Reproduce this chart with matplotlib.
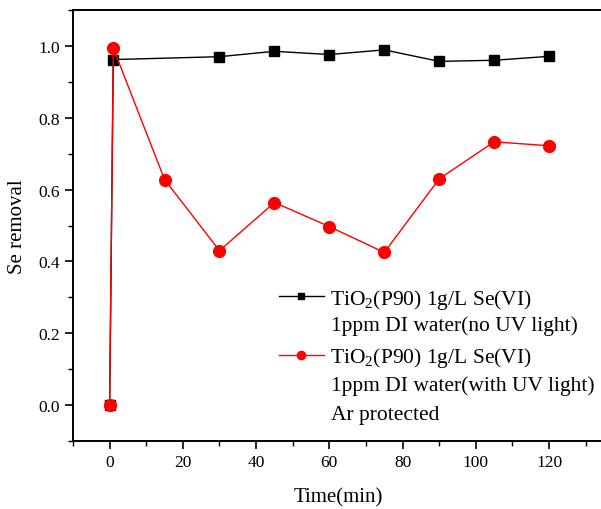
import matplotlib
matplotlib.use('Agg')
import matplotlib.pyplot as plt
from matplotlib.ticker import MultipleLocator, FormatStrFormatter

plt.rcParams['font.family'] = 'Liberation Serif'
plt.rcParams['mathtext.fontset'] = 'custom'
plt.rcParams['mathtext.rm'] = 'Liberation Serif'

# ── data ──
time_dark = [0, 1, 30, 45, 60, 75, 90, 105, 120]
removal_dark = [0.0, 0.962, 0.970, 0.985, 0.976, 0.989, 0.957, 0.960, 0.971]

time_uv = [0, 1, 15, 30, 45, 60, 75, 90, 105, 120]
removal_uv = [0.0, 0.994, 0.628, 0.430, 0.564, 0.497, 0.425, 0.630, 0.733, 0.722]

label_dark = 'TiO$_2$(P90) 1g/L Se(VI)'
label_uv = 'TiO$_2$(P90) 1g/L Se(VI)'
extra_dark = ['1ppm DI water(no UV light)']
extra_uv = ['1ppm DI water(with UV light)', 'Ar protected']

fig = plt.figure(figsize=(6.01, 5.10), dpi=100)
ax = fig.add_axes([73 / 601, 68 / 510, 531 / 601, 431 / 510])

ax.plot(time_dark, removal_dark, color='black', lw=1.0, marker='s', ms=7,
        label=label_dark)
ax.plot(time_uv, removal_uv, color='red', lw=1.0, marker='o', ms=8.5,
        label=label_uv)

ax.set_xlim(-10, 135)
ax.set_ylim(-0.1, 1.1)
ax.xaxis.set_major_locator(MultipleLocator(20))
ax.xaxis.set_minor_locator(MultipleLocator(10))
ax.yaxis.set_major_locator(MultipleLocator(0.2))
ax.yaxis.set_minor_locator(MultipleLocator(0.1))
ax.yaxis.set_major_formatter(FormatStrFormatter('%.1f'))
ax.tick_params(which='major', direction='out', length=6, width=1.2, labelsize=12.5)
ax.tick_params(which='minor', direction='out', length=3.5, width=1.0)
for s in ax.spines.values():
    s.set_linewidth(1.4)

ax.set_xlabel('Time(min)', fontsize=15, labelpad=12)
ax.set_ylabel('Se removal', fontsize=15, labelpad=8)

leg = ax.legend(loc='upper left', bbox_to_anchor=(268 / 601, 1 - 277 / 510),
                bbox_transform=fig.transFigure, frameon=False, fontsize=15.5,
                handlelength=2.1, handletextpad=0.3, labelspacing=1.6,
                borderpad=0, markerscale=0.7)

# continuation lines of the legend labels
fs = 15.5
for i, line in enumerate(extra_dark):
    fig.text(331 / 601, 1 - (326 + 30 * i) / 510, line, fontsize=fs, va='center')
for i, line in enumerate(extra_uv):
    fig.text(331 / 601, 1 - (386 + 30 * i) / 510, line, fontsize=fs, va='center')

fig.savefig('out.png', dpi=100, facecolor='white')
